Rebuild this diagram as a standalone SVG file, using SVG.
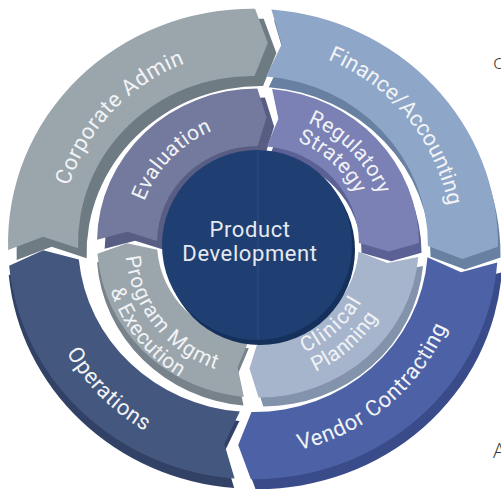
<svg xmlns="http://www.w3.org/2000/svg" width="501" height="495" viewBox="0 0 501 495">
<defs>
<style>
text{font-family:Roboto,"DejaVu Sans",sans-serif}
.lo{font-size:22px;letter-spacing:0.6px;fill:#f1f3f6;text-anchor:middle}
.li{font-size:21px;letter-spacing:0.4px;fill:#f1f3f6;text-anchor:middle}
.core{font-size:22px;letter-spacing:0.6px;fill:#e6e9ef;text-anchor:middle}
.edge{font-family:"Open Sans","Liberation Sans",sans-serif;font-size:21px;font-weight:300;fill:#3a3a3a}
.ca-top{fill:#9aa5ac}.ca-side{fill:#6e7b83}
.fa-top{fill:#8ea6c7}.fa-side{fill:#6880a2}
.vc-top{fill:#4d62a6}.vc-side{fill:#3a4b8a}
.op-top{fill:#44577f}.op-side{fill:#324266}
.ev-top{fill:#747a9e}.ev-side{fill:#585e83}
.rs-top{fill:#7b81b5}.rs-side{fill:#5b6195}
.cp-top{fill:#a6b5cc}.cp-side{fill:#8393ab}
.pm-top{fill:#9ba5ac}.pm-side{fill:#77828a}
</style>
<!-- quarter-ring chevrons: notch at the start, arrow tip at the end (clockwise) -->
<path id="seg-outer" d="M -244.86 -8.17 A 245 245 0 0 1 -8.17 -244.86 L 6.01 -209.91 L -5.83 -174.90 A 175 175 0 0 0 -174.90 -5.83 L -209.05 -19.98 Z"/>
<path id="seg-outer-nw" d="M -244.38 17.47 A 245 245 0 0 1 -8.17 -244.86 L 6.01 -209.91 L -5.83 -174.90 A 175 175 0 0 0 -174.55 12.48 L -209.99 1.98 Z"/>
<path id="seg-outer-sw" d="M -8.17 244.86 A 245 245 0 0 1 -242.67 33.71 L -209.39 15.97 L -173.34 24.08 A 175 175 0 0 0 -5.83 174.90 L -19.98 209.05 Z"/>
<path id="seg-inner" d="M -160.83 -7.36 A 161 161 0 0 1 -7.36 -160.83 L 3.02 -130.96 L -4.62 -100.89 A 101 101 0 0 0 -100.89 -4.62 L -130.14 -14.97 Z"/>
<path id="seg-inner-nw" d="M -160.95 3.88 A 161 161 0 0 1 -7.36 -160.83 L 3.02 -130.96 L -4.62 -100.89 A 101 101 0 0 0 -100.97 2.43 L -130.87 -5.85 Z"/>
<path id="seg-inner-sw" d="M -7.36 160.83 A 161 161 0 0 1 -159.93 18.56 L -130.86 6.13 L -100.33 11.64 A 101 101 0 0 0 -4.62 100.89 L -14.97 130.14 Z"/>
<!-- label baselines: cw arcs read over the top, ccw arcs read along the bottom -->
<path id="arc-o193" d="M -193 0 A 193 193 0 0 1 193 0"/>
<path id="arc-o199" d="M -199 0 A 199 199 0 0 1 199 0"/>
<path id="arc-o211" d="M -211 0 A 211 211 0 0 0 211 0"/>
<path id="arc-o216" d="M -216 0 A 216 216 0 0 0 216 0"/>
<path id="arc-i121" d="M -121 0 A 121 121 0 0 1 121 0"/>
<path id="arc-i130" d="M -130 0 A 130 130 0 0 1 130 0"/>
<path id="arc-i109" d="M -109 0 A 109 109 0 0 1 109 0"/>
<path id="arc-i119" d="M -119 0 A 119 119 0 0 0 119 0"/>
<path id="arc-i141" d="M -141 0 A 141 141 0 0 0 141 0"/>
<path id="arc-i133" d="M -133 0 A 133 133 0 0 0 133 0"/>
<path id="arc-i155" d="M -155 0 A 155 155 0 0 0 155 0"/>
</defs>
<rect width="501" height="495" fill="#ffffff"/>

<!-- outer ring -->
<g id="corporate-admin">
  <g transform="translate(253 244) rotate(2.5) scale(1 0.96)">
    <use href="#seg-outer-nw" class="ca-side" transform="translate(9 10)"/>
    <use href="#seg-outer-nw" class="ca-top"/>
  </g>
  <text class="lo" transform="translate(253 244) rotate(-46.5)"><textPath href="#arc-o193" startOffset="50%">Corporate Admin</textPath></text>
</g>
<g id="finance-accounting">
  <g transform="translate(253 244) rotate(2.5) scale(1 0.96)">
    <use href="#seg-outer" class="fa-side" transform="translate(3 11) rotate(90)"/>
    <use href="#seg-outer" class="fa-top" transform="rotate(90)"/>
  </g>
  <text class="lo" style="letter-spacing:0" transform="translate(253 244) rotate(50.5)"><textPath href="#arc-o199" startOffset="50%">Finance/Accounting</textPath></text>
</g>
<g id="vendor-contracting">
  <g transform="translate(253 244) rotate(2.5) scale(1 0.96)">
    <use href="#seg-outer" class="vc-side" transform="translate(5 10) rotate(180)"/>
    <use href="#seg-outer" class="vc-top" transform="rotate(180)"/>
  </g>
  <text class="lo" transform="translate(253 244) rotate(-39.8)"><textPath href="#arc-o211" startOffset="50%">Vendor Contracting</textPath></text>
</g>
<g id="operations">
  <g transform="translate(253 244) rotate(2.5) scale(1 0.96)">
    <use href="#seg-outer-sw" class="op-side" transform="translate(0 10)"/>
    <use href="#seg-outer-sw" class="op-top"/>
  </g>
  <text class="lo" transform="translate(253 244) rotate(44.8)"><textPath href="#arc-o216" startOffset="50%">Operations</textPath></text>
</g>

<!-- inner ring -->
<g id="evaluation">
  <g transform="translate(258 243) rotate(2.5) scale(1 0.96)">
    <use href="#seg-inner-nw" class="ev-side" transform="translate(8 9)"/>
    <use href="#seg-inner-nw" class="ev-top"/>
  </g>
  <text class="li" transform="translate(258 243) rotate(-46)"><textPath href="#arc-i121" startOffset="50%">Evaluation</textPath></text>
</g>
<g id="regulatory-strategy">
  <g transform="translate(258 243) rotate(2.5) scale(1 0.96)">
    <use href="#seg-inner" class="rs-side" transform="translate(3 10) rotate(90)"/>
    <use href="#seg-inner" class="rs-top" transform="rotate(90)"/>
  </g>
  <text class="li" transform="translate(258 243) rotate(45.4)"><textPath href="#arc-i130" startOffset="50%">Regulatory</textPath></text>
  <text class="li" transform="translate(258 243) rotate(42.4)"><textPath href="#arc-i109" startOffset="50%">Strategy</textPath></text>
</g>
<g id="clinical-planning">
  <g transform="translate(258 243) rotate(2.5) scale(1 0.96)">
    <use href="#seg-inner" class="cp-side" transform="translate(5 9) rotate(180)"/>
    <use href="#seg-inner" class="cp-top" transform="rotate(180)"/>
  </g>
  <text class="li" style="letter-spacing:1.4px" transform="translate(258 243) rotate(-42)"><textPath href="#arc-i119" startOffset="50%">Clinical</textPath></text>
  <text class="li" transform="translate(258 243) rotate(-41.2)"><textPath href="#arc-i141" startOffset="50%">Planning</textPath></text>
</g>
<g id="program-mgmt">
  <g transform="translate(258 243) rotate(2.5) scale(1 0.96)">
    <use href="#seg-inner-sw" class="pm-side" transform="translate(0 9)"/>
    <use href="#seg-inner-sw" class="pm-top"/>
  </g>
  <text class="li" style="letter-spacing:1px" transform="translate(258 243) rotate(51.2)"><textPath href="#arc-i133" startOffset="50%">Program Mgmt</textPath></text>
  <text class="li" transform="translate(258 243) rotate(51.2)"><textPath href="#arc-i155" startOffset="50%">&amp; Execution</textPath></text>
</g>

<!-- hub -->
<g id="product-development">
  <circle cx="260" cy="250" r="95" fill="#14305b"/>
  <circle cx="257" cy="245" r="95" fill="#1f3f72"/>
  <line x1="258" y1="151" x2="258" y2="339" stroke="#2f5086" stroke-width="1"/>
  <text class="core" x="250" y="237">Product</text>
  <text class="core" x="250" y="261">Development</text>
</g>

<!-- cut-off letters at the right margin -->
<text class="edge" x="493" y="68.5">c</text>
<text class="edge" x="493" y="458">A</text>
</svg>
